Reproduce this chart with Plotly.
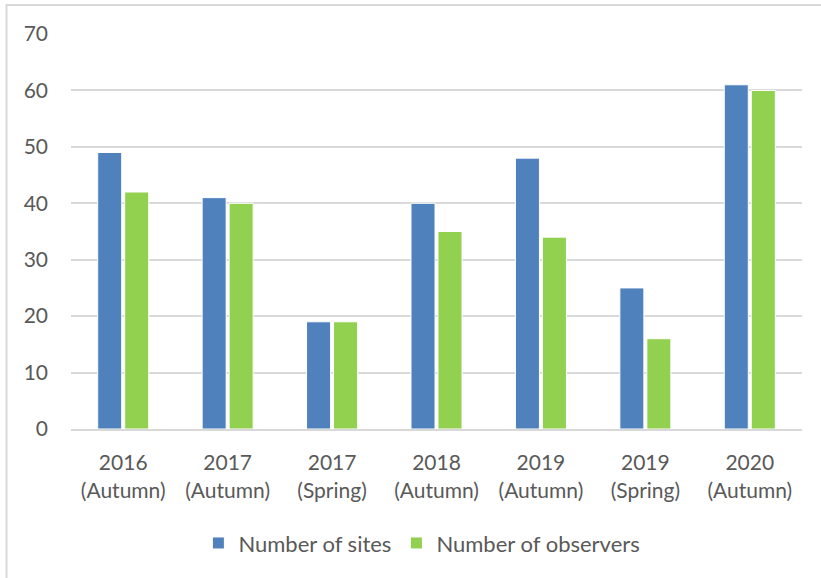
import plotly.graph_objects as go

categories = ["2016<br>(Autumn)", "2017<br>(Autumn)", "2017<br>(Spring)", "2018<br>(Autumn)",
              "2019<br>(Autumn)", "2019<br>(Spring)", "2020<br>(Autumn)"]
sites = [49, 41, 19, 40, 48, 25, 61]
observers = [42, 40, 19, 35, 34, 16, 60]
y_ticks = [0, 10, 20, 30, 40, 50, 60, 70]

font_family = "Lato, Open Sans, sans-serif"
text_color = "#595959"
FS = 21

fig = go.Figure()
fig.add_trace(go.Bar(x=categories, y=sites, name="Number of sites",
                     marker=dict(color="#4F81BD", line=dict(color="white", width=1))))
fig.add_trace(go.Bar(x=categories, y=observers, name="Number of observers",
                     marker=dict(color="#92D050", line=dict(color="white", width=1))))

fig.update_layout(
    width=821, height=578,
    margin=dict(l=71, r=19, t=34, b=149, autoexpand=False),
    paper_bgcolor="white", plot_bgcolor="white",
    barmode="group", bargap=0.483, bargroupgap=0.11,
    font=dict(family=font_family, size=FS, color=text_color),
    showlegend=True,
    legend=dict(orientation="h", x=0.48, xanchor="center", y=-0.289, yanchor="middle",
                font=dict(size=22, color=text_color), traceorder="normal"),
    xaxis=dict(showgrid=False, showline=True, linecolor="#D9D9D9", linewidth=2,
               ticks="", ticklabelstandoff=14, tickfont=dict(size=FS, color=text_color),
               automargin=False),
    yaxis=dict(range=[0, 70], tickvals=y_ticks, showgrid=True, gridcolor="#D9D9D9",
               gridwidth=1.5, zeroline=False, showline=False, ticks="",
               ticklabelstandoff=22, tickfont=dict(size=FS, color=text_color),
               automargin=False),
    shapes=[dict(type="rect", xref="paper", yref="paper",
                 x0=-64.5/731, x1=1.2, y0=-0.6, y1=1 + 29/395,
                 line=dict(color="#D9D9D9", width=2), fillcolor="rgba(0,0,0,0)", layer="below")],
)

fig.write_html("out.html", config={"displayModeBar": False},
               post_script="document.body.style.margin='0';")
